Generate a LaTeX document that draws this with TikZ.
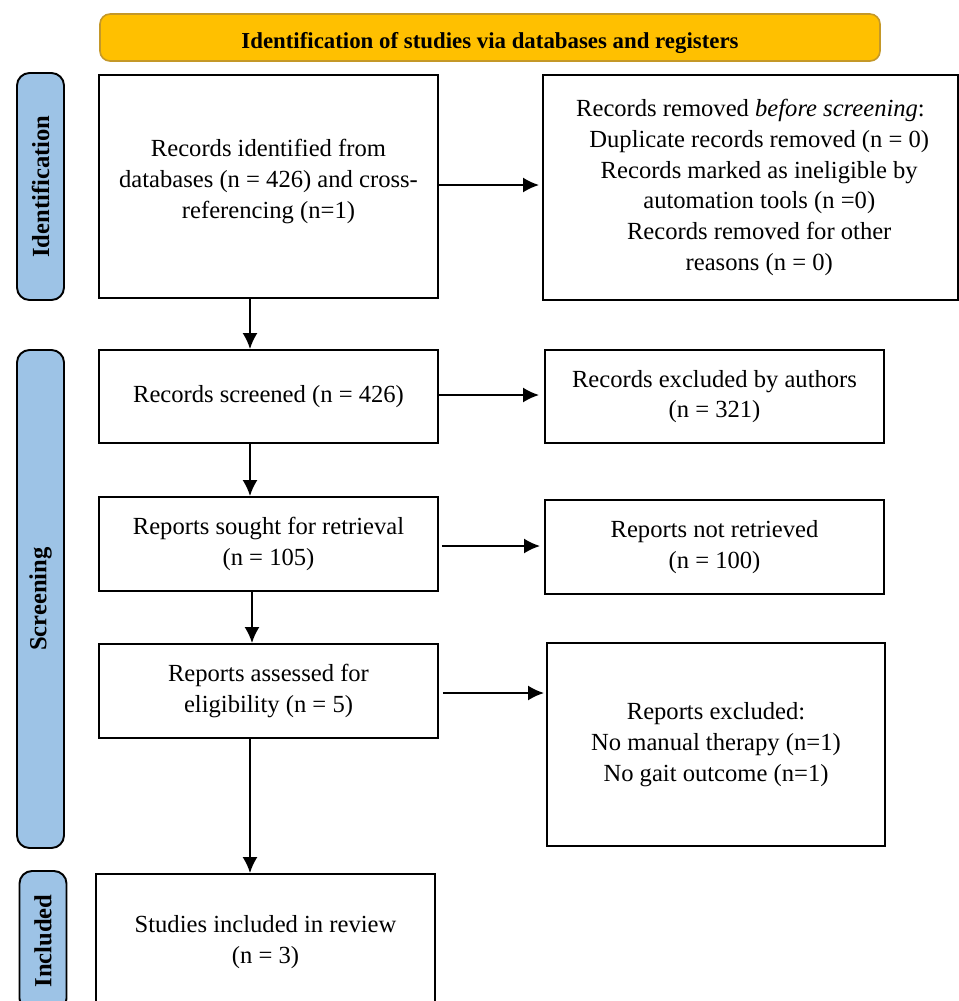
\documentclass[tikz,border=0pt]{standalone}
\usepackage{fontspec}
\setmainfont{Liberation Serif}
\usetikzlibrary{arrows.meta}
\definecolor{oro}{RGB}{255,192,0}
\definecolor{oroborde}{RGB}{196,152,40}
\definecolor{azulfase}{RGB}{157,195,230}
\tikzset{
  caja/.style={draw, line width=1.1pt, align=center, inner sep=0pt,
    font=\fontsize{14}{17.5}\selectfont},
  fase/.style={draw, line width=1.1pt, fill=azulfase, rounded corners=2.5mm,
    inner sep=0pt, rotate=90, minimum height=0.94cm,
    font=\bfseries\fontsize{14}{14}\selectfont},
  flecha/.style={line width=1.1pt, -{Latex[length=3.2mm,width=3mm]}}
}
\begin{document}
\begin{tikzpicture}
  \useasboundingbox (0,0) rectangle (19.18,-20.02);
  % la cabecera amarilla
  \node[draw=oroborde, fill=oro, line width=0.9pt, rounded corners=2mm,
    minimum width=15.6cm, minimum height=0.94cm,
    font=\bfseries\fontsize{13}{14}\selectfont] (cabecera) at (9.8,-0.75)
    {\raisebox{-0.1cm}[\height][\depth]{Identification of studies via databases and registers}};
  % las fases, a la izquierda
  \node[fase, minimum width=4.54cm] (fident) at (0.81,-3.73) {Identification};
  \node[fase, minimum width=9.96cm] (fcrib) at (0.81,-11.98) {Screening};
  \node[fase, minimum width=2.8cm] (fincl) at (0.86,-18.82) {Included};
  % la columna principal
  \node[caja, minimum width=6.78cm, minimum height=4.46cm] (identificados) at (5.37,-3.73)
    {Records identified from\\databases (n = 426) and cross-\\referencing (n=1)\\[-0.3cm]};
  \node[caja, minimum width=6.78cm, minimum height=1.86cm] (cribados) at (5.37,-7.93)
    {Records screened (n = 426)};
  \node[caja, minimum width=6.78cm, minimum height=1.88cm] (buscados) at (5.37,-10.88)
    {Reports sought for retrieval\\(n = 105)};
  \node[caja, minimum width=6.78cm, minimum height=1.88cm] (evaluados) at (5.37,-13.82)
    {Reports assessed for\\eligibility (n = 5)};
  \node[caja, minimum width=6.78cm, minimum height=2.72cm] (incluidos) at (5.31,-18.84)
    {Studies included in review\\(n = 3)};
  % la columna de la derecha (lo que se descarta)
  \node[caja, minimum width=8.3cm, minimum height=4.5cm] (eliminados) at (15.01,-3.75)
    {Records removed \textit{before screening}:\\
     \hspace*{0.35cm}Duplicate records removed (n = 0)\\
     \hspace*{0.35cm}Records marked as ineligible by\\
     \hspace*{0.35cm}automation tools (n =0)\\
     \hspace*{0.35cm}Records removed for other\\
     \hspace*{0.35cm}reasons (n = 0)};
  \node[caja, minimum width=6.78cm, minimum height=1.86cm] (excluautores) at (14.29,-7.93)
    {Records excluded by authors\\(n = 321)};
  \node[caja, minimum width=6.78cm, minimum height=1.88cm] (norecuperados) at (14.29,-10.94)
    {Reports not retrieved\\(n = 100)};
  \node[caja, minimum width=6.76cm, minimum height=4.06cm] (excluidos) at (14.32,-14.89)
    {Reports excluded:\\No manual therapy (n=1)\\No gait outcome (n=1)};
  % flechas hacia abajo, algo a la izquierda del centro
  \coordinate (eje) at (5.0,0);
  \coordinate (eje2) at (5.04,0);
  \draw[flecha] (identificados.south -| eje) -- (cribados.north -| eje);
  \draw[flecha] (cribados.south -| eje) -- (buscados.north -| eje);
  \draw[flecha] (buscados.south -| eje2) -- (evaluados.north -| eje2);
  \draw[flecha] (evaluados.south -| eje) -- (incluidos.north -| eje);
  % flechas hacia la derecha
  \draw[flecha, shorten >=0.06cm] ([yshift=0.03cm]identificados.east) -- ([yshift=0.03cm]identificados.east -| eliminados.west);
  \draw[flecha, shorten >=0.1cm] ([yshift=0.03cm]cribados.east) -- ([yshift=0.03cm]cribados.east -| excluautores.west);
  \draw[flecha, shorten <=0.06cm, shorten >=0.08cm] ([yshift=-0.04cm]buscados.east) -- ([yshift=-0.04cm]buscados.east -| norecuperados.west);
  \draw[flecha, shorten <=0.08cm, shorten >=0.04cm] ([yshift=-0.04cm]evaluados.east) -- ([yshift=-0.04cm]evaluados.east -| excluidos.west);
\end{tikzpicture}
\end{document}
